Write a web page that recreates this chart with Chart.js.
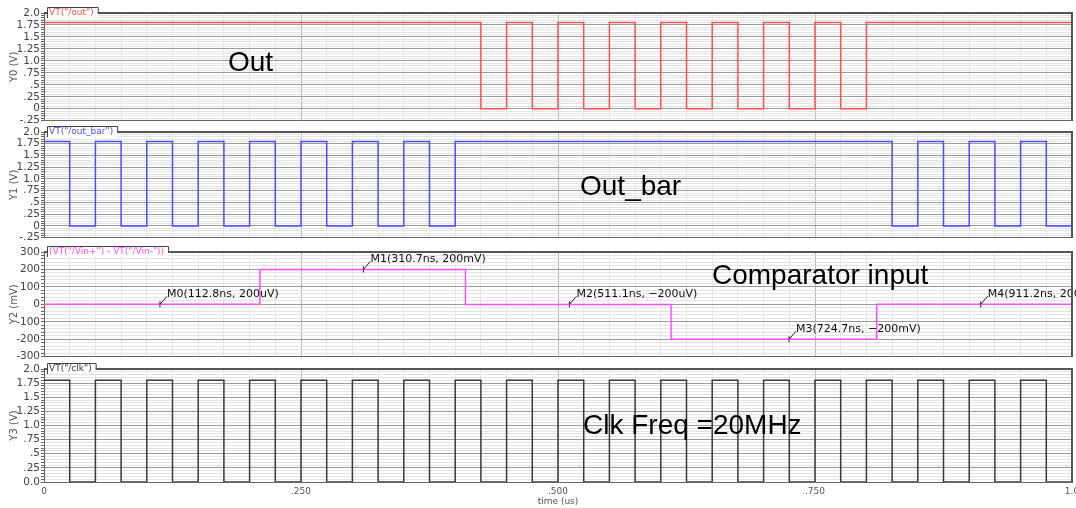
<!DOCTYPE html>
<html>
<head>
<meta charset="utf-8">
<title>Comparator transient</title>
<script src="https://cdn.jsdelivr.net/npm/chart.js@4.4.0/dist/chart.umd.min.js"></script>
<style>
  body { margin:0; background:#fff; width:1076px; height:508px; overflow:hidden; position:relative; }
  canvas { position:absolute; left:0; }
  .big { position:absolute; font-family:"Liberation Sans", Arial, sans-serif; font-size:28px; line-height:1; color:#000; white-space:nowrap; z-index:5; }
</style>
</head>
<body>
<canvas id="p0" width="1076" height="124" style="top:4px"></canvas>
<canvas id="p1" width="1076" height="122" style="top:123px"></canvas>
<canvas id="p2" width="1076" height="121" style="top:243px"></canvas>
<canvas id="p3" width="1076" height="148" style="top:360px"></canvas>

<div class="big" style="left:228px;top:48px">Out</div>
<div class="big" style="left:580px;top:172px">Out_bar</div>
<div class="big" style="left:712px;top:261px">Comparator input</div>
<div class="big" style="left:583px;top:411px">Clk Freq =20MHz</div>

<script>
// ---- data (time in us) ----
var outT = [0, 0.425, 0.45, 0.475, 0.5, 0.525, 0.55, 0.575, 0.6, 0.625, 0.65, 0.675, 0.7, 0.725, 0.75, 0.775, 0.8, 1.0];
var outV = [1.8, 0, 1.8, 0, 1.8, 0, 1.8, 0, 1.8, 0, 1.8, 0, 1.8, 0, 1.8, 0, 1.8, 1.8];

var outBarT = [0, 0.025, 0.05, 0.075, 0.1, 0.125, 0.15, 0.175, 0.2, 0.225, 0.25, 0.275, 0.3, 0.325, 0.35, 0.375, 0.4,
               0.825, 0.85, 0.875, 0.9, 0.925, 0.95, 0.975, 1.0];
var outBarV = [1.8, 0, 1.8, 0, 1.8, 0, 1.8, 0, 1.8, 0, 1.8, 0, 1.8, 0, 1.8, 0, 1.8,
               0, 1.8, 0, 1.8, 0, 1.8, 0, 1.8];

// comparator differential input (mV)
var vinT = [0, 0.21, 0.41, 0.61, 0.81, 1.0];
var vinV = [0.2, 200, -0.2, -200, 0.2, 0.2];

var clkT = [0, 0.025, 0.05, 0.075, 0.1, 0.125, 0.15, 0.175, 0.2, 0.225, 0.25, 0.275, 0.3, 0.325, 0.35, 0.375,
            0.4, 0.425, 0.45, 0.475, 0.5, 0.525, 0.55, 0.575, 0.6, 0.625, 0.65, 0.675, 0.7, 0.725, 0.75, 0.775,
            0.8, 0.825, 0.85, 0.875, 0.9, 0.925, 0.95, 0.975, 1.0];
var clkV = [1.8, 0, 1.8, 0, 1.8, 0, 1.8, 0, 1.8, 0, 1.8, 0, 1.8, 0, 1.8, 0,
            1.8, 0, 1.8, 0, 1.8, 0, 1.8, 0, 1.8, 0, 1.8, 0, 1.8, 0, 1.8, 0,
            1.8, 0, 1.8, 0, 1.8, 0, 1.8, 0, 1.8];

// markers on the comparator trace
var markerT = [0.1128, 0.3107, 0.5111, 0.7247, 0.9112];
var markerV = [0.2, 200, -0.2, -200, 0.2];
var markerLabels = ['M0(112.8ns, 200uV)', 'M1(310.7ns, 200mV)', 'M2(511.1ns, \u2212200uV)', 'M3(724.7ns, \u2212200mV)', 'M4(911.2ns, 200uV)'];

// tick labels
var voltTicks = [2.0, 1.75, 1.5, 1.25, 1.0, 0.75, 0.5, 0.25, 0, -0.25];
var voltLabels = ['2.0', '1.75', '1.5', '1.25', '1.0', '.75', '.5', '.25', '0', '-.25'];
var clkLabels = ['2.0', '1.75', '1.5', '1.25', '1.0', '.75', '.5', '.25', '0.0', ''];
var mvTicks = [300, 200, 100, 0, -100, -200, -300];
var mvLabels = ['300', '200', '100', '0', '-100', '-200', '-300'];
var timeTicks = [0, 0.25, 0.5, 0.75, 1.0];
var timeLabels = ['0', '.250', '.500', '.750', '1.0'];

var FONT = '"DejaVu Sans", Verdana, sans-serif';

function pts(t, v) {
  return t.map(function (x, i) { return { x: x, y: v[i] }; });
}

function findLabel(val, vals, labels) {
  for (var i = 0; i < vals.length; i++) {
    if (Math.abs(vals[i] - val) < 1e-6) return labels[i];
  }
  return null;
}

// tab with the signal name + frame on top/right
var framePlugin = {
  id: 'frame',
  afterDraw: function (chart, args, opts) {
    var ctx = chart.ctx, a = chart.chartArea;
    ctx.save();
    ctx.font = '9px ' + FONT;
    var w = ctx.measureText(opts.text).width + 6;
    ctx.strokeStyle = '#555';
    ctx.lineWidth = 2;
    ctx.beginPath();
    ctx.moveTo(a.left, a.top);
    ctx.lineTo(a.right, a.top);
    ctx.lineTo(a.right, a.bottom);
    ctx.stroke();

    var tx = a.left + 3, ty = a.top - 6;
    ctx.fillStyle = '#fff';
    ctx.fillRect(tx, ty, w, 11);
    ctx.lineWidth = 1;
    ctx.strokeStyle = '#444';
    ctx.beginPath();
    ctx.moveTo(tx + 0.5, a.top + 5);
    ctx.lineTo(tx + 0.5, ty + 0.5);
    ctx.lineTo(tx + w + 0.5, ty + 0.5);
    ctx.lineTo(tx + w + 0.5, a.top);
    ctx.stroke();
    ctx.fillStyle = opts.color;
    ctx.textBaseline = 'middle';
    ctx.fillText(opts.text, tx + 2, a.top);
    ctx.restore();
  }
};

// marker leader lines + text
var markerPlugin = {
  id: 'markers',
  afterDatasetsDraw: function (chart) {
    var ctx = chart.ctx, xs = chart.scales.x, ys = chart.scales.y;
    ctx.save();
    ctx.font = '11px ' + FONT;
    ctx.strokeStyle = '#222';
    ctx.fillStyle = '#111';
    ctx.lineWidth = 1;
    ctx.textBaseline = 'middle';
    markerT.forEach(function (t, i) {
      var px = xs.getPixelForValue(t), py = ys.getPixelForValue(markerV[i]);
      ctx.beginPath();
      ctx.moveTo(px, py);
      ctx.lineTo(px + 7, py - 8);
      ctx.stroke();
      ctx.fillText(markerLabels[i], px + 7, py - 10);
    });
    ctx.restore();
  }
};

function makePanel(id, cfg) {
  var canvas = document.getElementById(id);
  var datasets = [{
    data: pts(cfg.t, cfg.v),
    borderColor: cfg.color,
    borderWidth: 1.5,
    stepped: 'before',
    pointRadius: 0,
    fill: false
  }];
  if (cfg.markers) {
    datasets.push({
      type: 'scatter',
      data: pts(markerT, markerV),
      pointStyle: 'cross',
      pointRadius: 3,
      borderColor: '#111',
      borderWidth: 1,
      showLine: false
    });
  }
  var showX = !!cfg.xLabels;
  return new Chart(canvas, {
    type: 'line',
    data: { datasets: datasets },
    plugins: cfg.markers ? [framePlugin, markerPlugin] : [framePlugin],
    options: {
      responsive: false,
      animation: false,
      events: [],
      layout: { autoPadding: false, padding: { top: 9, left: 0, right: 4, bottom: showX ? 0 : 3 } },
      plugins: {
        legend: { display: false },
        tooltip: { enabled: false },
        frame: { text: cfg.tab, color: cfg.color }
      },
      scales: {
        x: {
          type: 'linear',
          min: 0, max: 1,
          afterFit: function (s) {
            s.height = showX ? 26 : 0;
            s.paddingLeft = 0;
            s.paddingRight = 0;
          },
          grid: {
            drawTicks: false,
            color: function (c) { return findLabel(c.tick.value, timeTicks, timeLabels) !== null ? '#b4b4b4' : '#e6e6e6'; }
          },
          border: { display: true, color: '#666', width: 1 },
          ticks: {
            display: showX,
            stepSize: 0.025,
            autoSkip: false,
            maxRotation: 0,
            padding: 4,
            color: '#555',
            font: { family: FONT, size: 9 },
            callback: function (val) { return findLabel(val, timeTicks, timeLabels) || ''; }
          },
          title: {
            display: showX,
            text: 'time (us)',
            color: '#555',
            font: { family: FONT, size: 9 },
            padding: { top: 0, bottom: 1 }
          }
        },
        y: {
          min: cfg.min, max: cfg.max,
          afterFit: function (s) { s.width = 44; },
          grid: {
            tickLength: 3,
            tickColor: '#666',
            color: function (c) { return findLabel(c.tick.value, cfg.ticks, cfg.labels) !== null ? '#9c9c9c' : '#e4e4e4'; }
          },
          border: { display: true, color: '#666', width: 1 },
          ticks: {
            stepSize: cfg.step,
            autoSkip: false,
            padding: 1,
            color: '#444',
            font: { family: FONT, size: 10.5 },
            callback: function (val) { return findLabel(val, cfg.ticks, cfg.labels) || ''; }
          },
          title: {
            display: true,
            text: cfg.yTitle,
            color: '#555',
            font: { family: FONT, size: 10 },
            padding: { top: 8, bottom: 0 }
          }
        }
      }
    }
  });
}

makePanel('p0', { t: outT, v: outV, color: '#ff4f4f', tab: 'VT("/out")', yTitle: 'Y0 (V)',
  min: -0.25, max: 2.0, step: 0.05, ticks: voltTicks, labels: voltLabels });
makePanel('p1', { t: outBarT, v: outBarV, color: '#4d4dff', tab: 'VT("/out_bar")', yTitle: 'Y1 (V)',
  min: -0.25, max: 2.0, step: 0.05, ticks: voltTicks, labels: voltLabels });
makePanel('p2', { t: vinT, v: vinV, color: '#ff4dff', tab: '(VT("/Vin+") - VT("/Vin-"))', yTitle: 'Y2 (mV)',
  min: -300, max: 300, step: 20, ticks: mvTicks, labels: mvLabels, markers: true });
makePanel('p3', { t: clkT, v: clkV, color: '#3a3a3a', tab: 'VT("/clk")', yTitle: 'Y3 (V)',
  min: 0, max: 2.0, step: 0.05, ticks: voltTicks, labels: clkLabels, xLabels: true });
</script>
</body>
</html>
